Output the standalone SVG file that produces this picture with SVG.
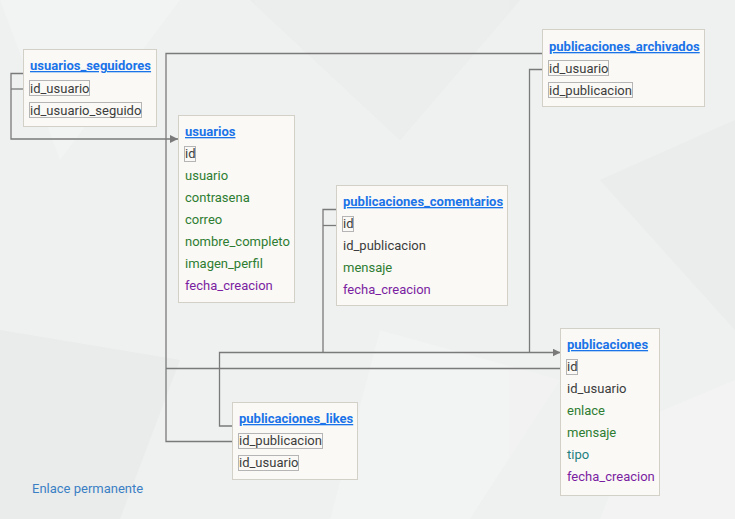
<svg xmlns="http://www.w3.org/2000/svg" width="735" height="519" viewBox="0 0 735 519">
<defs>
<style>
.tbl{fill:#faf9f5;stroke:#d3d0c8;stroke-width:1}
.title{font-family:Roboto,"Liberation Sans",sans-serif;font-size:13px;font-weight:bold;fill:#1a73e8;text-decoration:underline}
.f{font-family:Roboto,"Liberation Sans",sans-serif;font-size:13px;fill:#3c3c3c}
.g{fill:#2e7d32}
.t{fill:#1f8080}
.p{fill:#7b1fa2}
.key{fill:none;stroke:#b5b5b5;stroke-width:1}
.c{fill:none;stroke:#7a7a7a;stroke-width:1.3}
.link{font-family:Roboto,"Liberation Sans",sans-serif;font-size:13px;fill:#3b7fc4}
</style>
<marker id="arr" viewBox="0 0 10 10" refX="10" refY="5" markerWidth="8" markerHeight="8" markerUnits="userSpaceOnUse" orient="auto">
<path d="M0,0 L10,5 L0,10 z" fill="#7a7a7a"/>
</marker>
</defs>
<rect width="735" height="519" fill="#eff0f0"/>
<g opacity="0.5">
<polygon points="0,0 180,0 60,160" fill="#f6f6f6"/>
<polygon points="250,0 520,0 400,140" fill="#e9eaea"/>
<polygon points="600,180 735,120 735,330" fill="#e8e9e9"/>
<polygon points="0,330 180,360 120,519 0,519" fill="#e6e7e7"/>
<polygon points="380,330 560,380 470,519 330,519" fill="#f5f5f5"/>
<polygon points="640,420 735,380 735,519 600,519" fill="#f7f7f7"/>
</g>
<g id="connectors">
<path class="c" d="M23.5,73.5 H11 V139 H178" marker-end="url(#arr)"/>
<path class="c" d="M23.5,89 H11"/>
<path class="c" d="M542,53.5 H166 V441.5 H232"/>
<path class="c" d="M166,368.5 H560.5"/>
<path class="c" d="M542,69.5 H529.5 V352.5"/>
<path class="c" d="M336.5,209.5 H323 V352.5"/>
<path class="c" d="M336.5,225.5 H323"/>
<path class="c" d="M232,426 H219.5 V352.5 H560.5" marker-end="url(#arr)"/>
</g>
<g id="usuarios_seguidores">
<rect class="tbl" x="23.5" y="49.5" width="133" height="77"/>
<text class="title" x="30" y="70">usuarios_seguidores</text>
<rect class="key" x="29.5" y="80.5" width="60" height="15"/>
<text class="f" x="30" y="92.5">id_usuario</text>
<rect class="key" x="29.5" y="102.5" width="112" height="15"/>
<text class="f" x="30" y="114.5">id_usuario_seguido</text>
</g>
<g id="usuarios">
<rect class="tbl" x="178.5" y="115.5" width="116" height="187"/>
<text class="title" x="185" y="136">usuarios</text>
<rect class="key" x="184.5" y="146.5" width="11" height="15"/>
<text class="f" x="185" y="158">id</text>
<text class="f g" x="185" y="180">usuario</text>
<text class="f g" x="185" y="202">contrasena</text>
<text class="f g" x="185" y="224">correo</text>
<text class="f g" x="185" y="246">nombre_completo</text>
<text class="f g" x="185" y="268">imagen_perfil</text>
<text class="f p" x="185" y="290">fecha_creacion</text>
</g>
<g id="publicaciones_comentarios">
<rect class="tbl" x="336.5" y="185.5" width="171" height="120"/>
<text class="title" x="343" y="206">publicaciones_comentarios</text>
<rect class="key" x="342.5" y="216.5" width="11" height="15"/>
<text class="f" x="343" y="228">id</text>
<text class="f" x="343" y="250">id_publicacion</text>
<text class="f g" x="343" y="272">mensaje</text>
<text class="f p" x="343" y="294">fecha_creacion</text>
</g>
<g id="publicaciones_archivados">
<rect class="tbl" x="542.5" y="29.5" width="162" height="77"/>
<text class="title" x="549" y="51">publicaciones_archivados</text>
<rect class="key" x="548.5" y="60.5" width="60" height="15"/>
<text class="f" x="549" y="72.5">id_usuario</text>
<rect class="key" x="548.5" y="82.5" width="84" height="15"/>
<text class="f" x="549" y="94.5">id_publicacion</text>
</g>
<g id="publicaciones">
<rect class="tbl" x="560.5" y="328.5" width="99" height="167"/>
<text class="title" x="567" y="349">publicaciones</text>
<rect class="key" x="566.5" y="359.5" width="11" height="15"/>
<text class="f" x="567" y="371">id</text>
<text class="f" x="567" y="393">id_usuario</text>
<text class="f g" x="567" y="415">enlace</text>
<text class="f g" x="567" y="437">mensaje</text>
<text class="f t" x="567" y="459">tipo</text>
<text class="f p" x="567" y="481">fecha_creacion</text>
</g>
<g id="publicaciones_likes">
<rect class="tbl" x="232.5" y="402.5" width="125" height="77"/>
<text class="title" x="239" y="423">publicaciones_likes</text>
<rect class="key" x="238.5" y="433.5" width="84" height="15"/>
<text class="f" x="239" y="445">id_publicacion</text>
<rect class="key" x="238.5" y="455.5" width="60" height="15"/>
<text class="f" x="239" y="467">id_usuario</text>
</g>
<text class="link" x="32" y="493">Enlace permanente</text>
</svg>
